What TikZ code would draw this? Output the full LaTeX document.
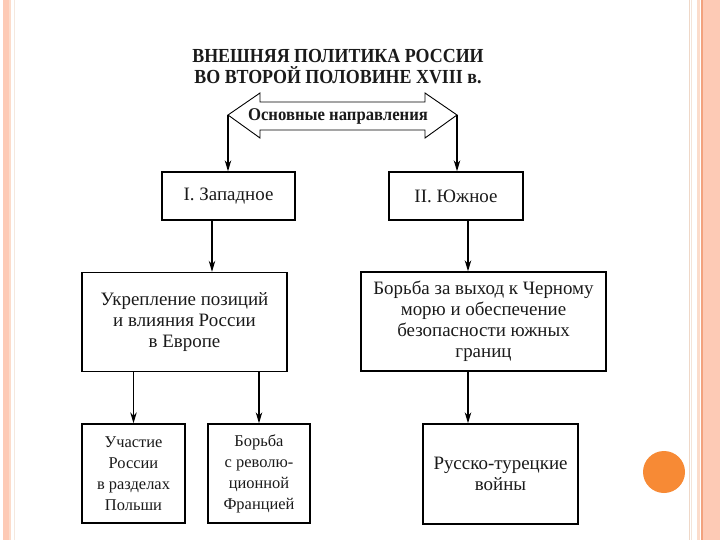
\documentclass[tikz,border=0pt]{standalone}
\usepackage{fontspec}
\setmainfont{Liberation Serif}
\usetikzlibrary{arrows.meta,calc}
\definecolor{peach}{HTML}{FDCAB5}
\definecolor{peachlt}{HTML}{FCDCCB}
\definecolor{beige}{HTML}{EFD8C8}
\definecolor{orangeln}{HTML}{F2A27E}
\definecolor{dot}{HTML}{F78A35}
\definecolor{ink}{HTML}{1A1A1A}
\tikzset{
  box/.style={draw=black, line width=1.4bp, fill=white, inner sep=2bp, align=center,
    text=ink, font=\fontsize{19}{21}\selectfont},
  smallbox/.style={box, font=\fontsize{16.5}{21}\selectfont},
  arr/.style={draw=black, line width=1.2bp, -{Stealth[length=11bp,width=6.5bp]}},
}
\begin{document}
\begin{tikzpicture}[x=1bp,y=-1bp]
\useasboundingbox (0,0) rectangle (720,540);
\fill[white] (0,0) rectangle (720,540);
% left border
\fill[peach] (3,0) rectangle (9,540);
\fill[peachlt] (9,0) rectangle (11,540);
\fill[beige!60] (13.5,0) rectangle (14.5,540);
% right border
\fill[beige] (688.5,0) rectangle (690,540);
\fill[beige!70] (690.8,0) rectangle (692.2,540);
\fill[peachlt] (697,0) rectangle (700,540);
\fill[orangeln] (701,0) rectangle (703,540);
\fill[peach] (703,0) rectangle (720,540);
% dot
\fill[dot] (664,472) circle (21);
% title
\node[font=\bfseries\fontsize{20}{21.5}\selectfont, align=center, text=ink] (title) at (338,66.5)
  {\scalebox{0.9}[1]{ВНЕШНЯЯ ПОЛИТИКА РОССИИ}\\\scalebox{0.9}[1]{ВО ВТОРОЙ ПОЛОВИНЕ XVIII в.}};
% double arrow
\draw[line width=0.9bp, fill=white] (228,115) -- (260,93) -- (260,102) -- (425,102) -- (425,93)
  -- (457,115) -- (425,138) -- (425,130) -- (260,130) -- (260,138) -- cycle;
\coordinate (lt) at (228,115);
\coordinate (rt) at (457,115);
\node[font=\bfseries\fontsize{18}{20}\selectfont, text=ink] (dir) at (338,116)
  {\scalebox{0.93}[1]{Основные направления}};
% boxes
\node[box, minimum width=133bp, minimum height=48bp] (wst) at (228.5,196) {I. Западное};
\node[box, minimum width=134bp, minimum height=48bp] (sth) at (456,196) {II. Южное};
\node[box, minimum width=205bp, minimum height=99bp] (ukr) at (184.5,322)
  {Укрепление позиций\\и влияния России\\в Европе};
\node[box, minimum width=245bp, minimum height=99bp] (brb) at (483.5,321.5)
  {Борьба за выход к Черному\\морю и обеспечение\\безопасности южных\\границ};
\node[smallbox, minimum width=103bp, minimum height=99bp] (uch) at (133.5,473.5)
  {Участие\\России\\в разделах\\Польши};
\node[smallbox, minimum width=102bp, minimum height=99bp] (frn) at (259,473.5)
  {Борьба\\с револю-\\ционной\\Францией};
\node[box, minimum width=155bp, minimum height=100bp] (rtw) at (500.5,474)
  {Русско-турецкие\\войны};
% connectors
\draw[arr] (lt) -- (lt |- wst.north);
\draw[arr] (rt) -- (rt |- sth.north);
\draw[arr] ([xshift=-16.5bp]wst.south) -- ([xshift=-16.5bp]wst.south |- ukr.north);
\draw[arr] ([xshift=12bp]sth.south) -- ([xshift=12bp]sth.south |- brb.north);
\draw[arr] (uch.north |- ukr.south) -- (uch.north);
\draw[arr] (frn.north |- ukr.south) -- (frn.north);
\draw[arr] ([xshift=-15.5bp]brb.south) -- ([xshift=-15.5bp]brb.south |- rtw.north);
\end{tikzpicture}
\end{document}
